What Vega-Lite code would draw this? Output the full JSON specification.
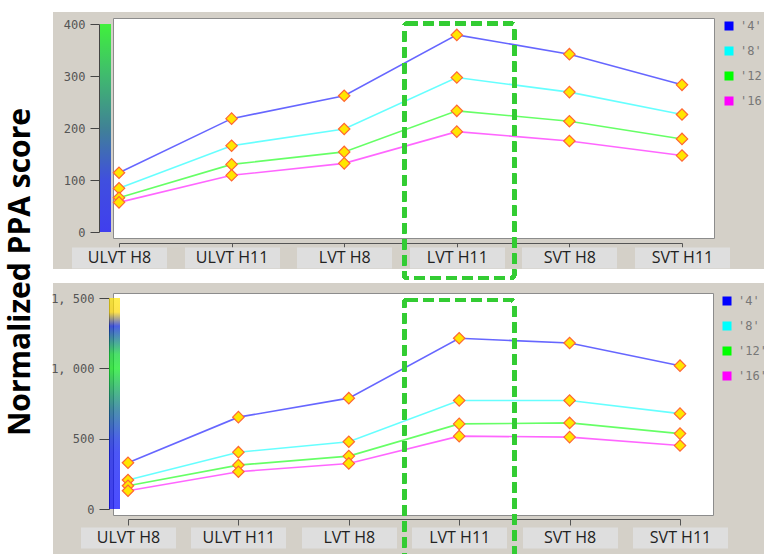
{
  "$schema": "https://vega.github.io/schema/vega-lite/v6.json",
  "padding": 0,
  "background": "#d4d0c8",
  "title": {"text": "Normalized PPA score", "orient": "left", "anchor": "middle", "offset": -36, "dx": 26, "font": "Open Sans", "fontSize": 30, "fontWeight": "bold", "color": "#000", "zindex": 1},
  "datasets": {
    "top": [
      {"cat": "ULVT H8", "series": "'4'", "score": 114},
      {"cat": "ULVT H11", "series": "'4'", "score": 218},
      {"cat": "LVT H8", "series": "'4'", "score": 262},
      {"cat": "LVT H11", "series": "'4'", "score": 379},
      {"cat": "SVT H8", "series": "'4'", "score": 342},
      {"cat": "SVT H11", "series": "'4'", "score": 283},
      {"cat": "ULVT H8", "series": "'8'", "score": 84},
      {"cat": "ULVT H11", "series": "'8'", "score": 166},
      {"cat": "LVT H8", "series": "'8'", "score": 198},
      {"cat": "LVT H11", "series": "'8'", "score": 297},
      {"cat": "SVT H8", "series": "'8'", "score": 269},
      {"cat": "SVT H11", "series": "'8'", "score": 226},
      {"cat": "ULVT H8", "series": "'12'", "score": 66},
      {"cat": "ULVT H11", "series": "'12'", "score": 130},
      {"cat": "LVT H8", "series": "'12'", "score": 154},
      {"cat": "LVT H11", "series": "'12'", "score": 233},
      {"cat": "SVT H8", "series": "'12'", "score": 213},
      {"cat": "SVT H11", "series": "'12'", "score": 179},
      {"cat": "ULVT H8", "series": "'16'", "score": 57},
      {"cat": "ULVT H11", "series": "'16'", "score": 109},
      {"cat": "LVT H8", "series": "'16'", "score": 132},
      {"cat": "LVT H11", "series": "'16'", "score": 193},
      {"cat": "SVT H8", "series": "'16'", "score": 175},
      {"cat": "SVT H11", "series": "'16'", "score": 147}
    ],
    "bottom": [
      {"cat": "ULVT H8", "series": "'4'", "score": 329},
      {"cat": "ULVT H11", "series": "'4'", "score": 653},
      {"cat": "LVT H8", "series": "'4'", "score": 788},
      {"cat": "LVT H11", "series": "'4'", "score": 1214},
      {"cat": "SVT H8", "series": "'4'", "score": 1180},
      {"cat": "SVT H11", "series": "'4'", "score": 1019},
      {"cat": "ULVT H8", "series": "'8'", "score": 206},
      {"cat": "ULVT H11", "series": "'8'", "score": 404},
      {"cat": "LVT H8", "series": "'8'", "score": 478},
      {"cat": "LVT H11", "series": "'8'", "score": 771},
      {"cat": "SVT H8", "series": "'8'", "score": 771},
      {"cat": "SVT H11", "series": "'8'", "score": 678},
      {"cat": "ULVT H8", "series": "'12'", "score": 165},
      {"cat": "ULVT H11", "series": "'12'", "score": 312},
      {"cat": "LVT H8", "series": "'12'", "score": 376},
      {"cat": "LVT H11", "series": "'12'", "score": 605},
      {"cat": "SVT H8", "series": "'12'", "score": 612},
      {"cat": "SVT H11", "series": "'12'", "score": 536},
      {"cat": "ULVT H8", "series": "'16'", "score": 130},
      {"cat": "ULVT H11", "series": "'16'", "score": 265},
      {"cat": "LVT H8", "series": "'16'", "score": 324},
      {"cat": "LVT H11", "series": "'16'", "score": 518},
      {"cat": "SVT H8", "series": "'16'", "score": 511},
      {"cat": "SVT H11", "series": "'16'", "score": 451}
    ]
  },
  "bounds": "flush",
  "align": "each",
  "spacing": 0,
  "columns": 3,
  "resolve": {"scale": {"color": "independent", "fill": "independent", "stroke": "independent"}},
  "concat": [
    {"width": 53, "height": 12, "view": {"fill": "white", "stroke": null}, "data": {"values": [{}]}, "mark": {"type": "point", "opacity": 0}},
    {"width": 60, "height": 12, "view": {"fill": "white", "stroke": null}, "data": {"values": [{}]}, "mark": {"type": "point", "opacity": 0}},
    {"width": 651, "height": 12, "view": {"fill": "white", "stroke": null}, "data": {"values": [{}]}, "mark": {"type": "point", "opacity": 0}},

    {"width": 53, "height": 6, "view": {"fill": "white", "stroke": null}, "data": {"values": [{}]}, "mark": {"type": "point", "opacity": 0}},
    {"width": 60, "height": 6, "data": {"values": [{}]}, "mark": {"type": "point", "opacity": 0}},
    {"width": 651, "height": 6, "data": {"values": [{}]}, "mark": {"type": "point", "opacity": 0}},

    {"width": 53, "height": 220, "view": {"fill": "white", "stroke": null}, "data": {"values": [{}]}, "mark": {"type": "point", "opacity": 0}},
    {"width": 60, "height": 220, "data": {"values": [{}]}, "mark": {"type": "point", "opacity": 0}},
    {
      "width": 601,
      "height": 220,
      "view": {"fill": "white", "stroke": "#8c8c8c"},
      "data": {"name": "top"},
      "resolve": {"axis": {"x": "independent"}},
      "layer": [
        {
          "mark": {"type": "line", "strokeWidth": 1.6, "strokeOpacity": 0.6},
          "encoding": {
            "x": {"field": "cat", "type": "nominal", "scale": {"type": "point", "domain": ["ULVT H8", "ULVT H11", "LVT H8", "LVT H11", "SVT H8", "SVT H11"], "range": [6, 569], "padding": 0},
              "axis": {"orient": "bottom", "title": null, "offset": 5, "labels": false, "domainColor": "#555", "tickColor": "#555", "tickSize": 4, "grid": false}},
            "y": {"field": "score", "type": "quantitative", "scale": {"domain": [0, 400], "range": [214, 6], "nice": false, "zero": false},
              "axis": {"values": [0, 100, 200, 300, 400], "title": null, "grid": false, "offset": 14, "tickSize": 9, "tickColor": "#444", "domainColor": "#444", "labelFont": "DejaVu Sans Mono", "labelFontSize": 12, "labelColor": "#555", "labelPadding": 5, "labelFlush": false}},
            "stroke": {"field": "series", "type": "nominal", "scale": {"range": ["#00ff00", "#ff00ff", "#0000ff", "#00ffff"]}, "legend": null},
            "order": {"value": null}
          }
        },
        {
          "mark": {"type": "point", "shape": "square", "filled": true, "size": 4, "opacity": 1},
          "encoding": {
            "x": {"field": "cat", "type": "nominal", "scale": {"type": "point", "domain": ["ULVT H8", "ULVT H11", "LVT H8", "LVT H11", "SVT H8", "SVT H11"], "range": [6, 569], "padding": 0},
              "axis": {"orient": "bottom", "title": null, "offset": 9, "domain": false, "tickSize": 21, "tickWidth": 95, "tickColor": "#dedede", "labelAngle": 0, "labelFont": "Open Sans", "labelFontSize": 16, "labelColor": "#222", "labelBaseline": "middle", "labelPadding": -10.5, "grid": false}},
            "y": {"field": "score", "type": "quantitative", "scale": {"domain": [0, 400], "range": [214, 6], "nice": false, "zero": false}},
            "fill": {"field": "series", "type": "nominal", "scale": {"domain": ["'4'", "'8'", "'12'", "'16'"], "range": ["#0000ff", "#00ffff", "#00ff00", "#ff00ff"]},
              "legend": {"title": null, "orient": "right", "offset": 7, "padding": 2, "symbolType": "square", "symbolSize": 81, "symbolStrokeWidth": 0, "labelFont": "DejaVu Sans Mono", "labelFontSize": 12, "labelColor": "#777", "labelOffset": 5, "rowPadding": 13}}
          }
        },
        {
          "mark": {"type": "point", "shape": "diamond", "filled": true, "fill": "#ffe600", "stroke": "#ff6633", "strokeWidth": 1.2, "size": 130, "opacity": 1},
          "encoding": {
            "x": {"field": "cat", "type": "nominal", "scale": {"type": "point", "domain": ["ULVT H8", "ULVT H11", "LVT H8", "LVT H11", "SVT H8", "SVT H11"], "range": [6, 569], "padding": 0}, "axis": null},
            "y": {"field": "score", "type": "quantitative", "scale": {"domain": [0, 400], "range": [214, 6], "nice": false, "zero": false}}
          }
        },
        {
          "mark": {"type": "point", "filled": true, "size": 0},
          "encoding": {
            "x": {"field": "cat", "type": "nominal", "scale": {"type": "point", "domain": ["ULVT H8", "ULVT H11", "LVT H8", "LVT H11", "SVT H8", "SVT H11"], "range": [6, 569], "padding": 0}, "axis": null},
            "y": {"field": "score", "type": "quantitative", "scale": {"domain": [0, 400], "range": [214, 6], "nice": false, "zero": false}},
            "color": {"field": "score", "type": "quantitative", "scale": {"type": "linear", "domain": [0, 100, 200, 300, 400], "range": ["#0000ff", "#0018e8", "#006080", "#00b048", "#00ff00"], "interpolate": "rgb"},
              "legend": {"title": null, "orient": "none", "legendX": -13, "legendY": 6, "direction": "vertical", "gradientLength": 208, "gradientThickness": 11, "gradientStrokeWidth": 0, "labelOpacity": 0, "labelExpr": "''"}}
          }
        }
      ]
    },

    {"width": 53, "height": 31, "view": {"fill": "white", "stroke": null}, "data": {"values": [{}]}, "mark": {"type": "point", "opacity": 0}},
    {"width": 60, "height": 31, "data": {"values": [{}]}, "mark": {"type": "point", "opacity": 0}},
    {"width": 651, "height": 31, "data": {"values": [{}]}, "mark": {"type": "point", "opacity": 0}},

    {"width": 53, "height": 14, "view": {"fill": "white", "stroke": null}, "data": {"values": [{}]}, "mark": {"type": "point", "opacity": 0}},
    {"width": 60, "height": 14, "view": {"fill": "white", "stroke": null}, "data": {"values": [{}]}, "mark": {"type": "point", "opacity": 0}},
    {"width": 651, "height": 14, "view": {"fill": "white", "stroke": null}, "data": {"values": [{}]}, "mark": {"type": "point", "opacity": 0}},

    {"width": 53, "height": 10, "view": {"fill": "white", "stroke": null}, "data": {"values": [{}]}, "mark": {"type": "point", "opacity": 0}},
    {"width": 60, "height": 10, "data": {"values": [{}]}, "mark": {"type": "point", "opacity": 0}},
    {"width": 651, "height": 10, "data": {"values": [{}]}, "mark": {"type": "point", "opacity": 0}},

    {"width": 53, "height": 222, "view": {"fill": "white", "stroke": null}, "data": {"values": [{}]}, "mark": {"type": "point", "opacity": 0}},
    {"width": 60, "height": 222, "data": {"values": [{}]}, "mark": {"type": "point", "opacity": 0}},
    {
      "width": 600,
      "height": 222,
      "view": {"fill": "white", "stroke": "#8c8c8c"},
      "data": {"name": "bottom"},
      "resolve": {"axis": {"x": "independent"}},
      "layer": [
        {
          "mark": {"type": "line", "strokeWidth": 1.6, "strokeOpacity": 0.6},
          "encoding": {
            "x": {"field": "cat", "type": "nominal", "scale": {"type": "point", "domain": ["ULVT H8", "ULVT H11", "LVT H8", "LVT H11", "SVT H8", "SVT H11"], "range": [15, 567], "padding": 0},
              "axis": {"orient": "bottom", "title": null, "offset": 4, "labels": false, "domainColor": "#555", "tickColor": "#555", "tickSize": 6, "grid": false}},
            "y": {"field": "score", "type": "quantitative", "scale": {"domain": [0, 1500], "range": [216, 5], "nice": false, "zero": false},
              "axis": {"values": [0, 500, 1000, 1500], "labelExpr": "replace(format(datum.value, ','), ',', ', ')", "title": null, "grid": false, "offset": 4, "tickSize": 10, "tickColor": "#444", "domainColor": "#444", "labelFont": "DejaVu Sans Mono", "labelFontSize": 12, "labelColor": "#555", "labelPadding": 5, "labelFlush": false}},
            "stroke": {"field": "series", "type": "nominal", "scale": {"range": ["#00ff00", "#ff00ff", "#0000ff", "#00ffff"]}, "legend": null},
            "order": {"value": null}
          }
        },
        {
          "mark": {"type": "point", "shape": "square", "filled": true, "size": 4, "opacity": 1},
          "encoding": {
            "x": {"field": "cat", "type": "nominal", "scale": {"type": "point", "domain": ["ULVT H8", "ULVT H11", "LVT H8", "LVT H11", "SVT H8", "SVT H11"], "range": [15, 567], "padding": 0},
              "axis": {"orient": "bottom", "title": null, "offset": 12, "domain": false, "tickSize": 21, "tickWidth": 95, "tickColor": "#dedede", "labelAngle": 0, "labelFont": "Open Sans", "labelFontSize": 16, "labelColor": "#222", "labelBaseline": "middle", "labelPadding": -10.5, "grid": false}},
            "y": {"field": "score", "type": "quantitative", "scale": {"domain": [0, 1500], "range": [216, 5], "nice": false, "zero": false}},
            "fill": {"field": "series", "type": "nominal", "scale": {"domain": ["'4'", "'8'", "'12'", "'16'"], "range": ["#0000ff", "#00ffff", "#00ff00", "#ff00ff"]},
              "legend": {"title": null, "orient": "right", "offset": 6, "padding": 2, "symbolType": "square", "symbolSize": 81, "symbolStrokeWidth": 0, "labelFont": "DejaVu Sans Mono", "labelFontSize": 12, "labelColor": "#777", "labelOffset": 5, "rowPadding": 13}}
          }
        },
        {
          "mark": {"type": "point", "shape": "diamond", "filled": true, "fill": "#ffe600", "stroke": "#ff6633", "strokeWidth": 1.2, "size": 130, "opacity": 1},
          "encoding": {
            "x": {"field": "cat", "type": "nominal", "scale": {"type": "point", "domain": ["ULVT H8", "ULVT H11", "LVT H8", "LVT H11", "SVT H8", "SVT H11"], "range": [15, 567], "padding": 0}, "axis": null},
            "y": {"field": "score", "type": "quantitative", "scale": {"domain": [0, 1500], "range": [216, 5], "nice": false, "zero": false}}
          }
        },
        {
          "mark": {"type": "point", "filled": true, "size": 0},
          "encoding": {
            "x": {"field": "cat", "type": "nominal", "scale": {"type": "point", "domain": ["ULVT H8", "ULVT H11", "LVT H8", "LVT H11", "SVT H8", "SVT H11"], "range": [15, 567], "padding": 0}, "axis": null},
            "y": {"field": "score", "type": "quantitative", "scale": {"domain": [0, 1500], "range": [216, 5], "nice": false, "zero": false}},
            "color": {"field": "score", "type": "quantitative", "scale": {"type": "linear", "domain": [0, 450, 730, 1050, 1330, 1345, 1500], "range": ["#0000ff", "#0010f0", "#006a80", "#00ff00", "#0000ee", "#ffd200", "#ffe400"], "interpolate": "rgb"},
              "legend": {"title": null, "orient": "none", "legendX": -4, "legendY": 5, "direction": "vertical", "gradientLength": 211, "gradientThickness": 11, "gradientStrokeWidth": 0, "labelOpacity": 0, "labelExpr": "''"}}
          }
        },
        {
          "mark": {"type": "rect", "filled": false, "stroke": "#33cc33", "strokeWidth": 4, "strokeDash": [10, 6], "cornerRadius": 3, "width": 110},
          "encoding": {
            "x": {"datum": "LVT H11", "type": "nominal", "scale": {"type": "point", "domain": ["ULVT H8", "ULVT H11", "LVT H8", "LVT H11", "SVT H8", "SVT H11"], "range": [15, 567], "padding": 0}, "axis": null},
            "y": {"datum": 3452, "type": "quantitative", "scale": {"domain": [0, 1500], "range": [216, 5], "nice": false, "zero": false}},
            "y2": {"datum": 1643}
          }
        },
        {
          "mark": {"type": "rect", "filled": false, "stroke": "#33cc33", "strokeWidth": 4, "strokeDash": [10, 6], "cornerRadius": 3, "width": 110},
          "encoding": {
            "x": {"datum": "LVT H11", "type": "nominal", "scale": {"type": "point", "domain": ["ULVT H8", "ULVT H11", "LVT H8", "LVT H11", "SVT H8", "SVT H11"], "range": [15, 567], "padding": 0}, "axis": null},
            "y": {"datum": 1486, "type": "quantitative", "scale": {"domain": [0, 1500], "range": [216, 5], "nice": false, "zero": false}},
            "y2": {"datum": -400}
          }
        }
      ]
    },

    {"width": 53, "height": 39, "view": {"fill": "white", "stroke": null}, "data": {"values": [{}]}, "mark": {"type": "point", "opacity": 0}}
  ],
  "config": {
    "view": {"stroke": null},
    "axis": {"grid": false}
  }
}
